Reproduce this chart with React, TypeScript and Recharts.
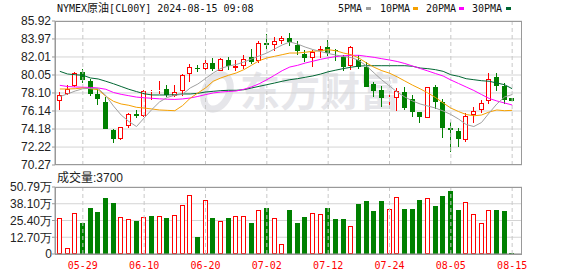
import React from 'react';
import { ComposedChart, Bar, Line, XAxis, YAxis, CartesianGrid, ReferenceLine } from 'recharts';

// trading days shown (NYMEX crude, daily K)
const dates = [
  '05-23', '05-24', '05-28', '05-29', '05-30', '05-31', '06-03', '06-04', '06-05', '06-06',
  '06-07', '06-10', '06-11', '06-12', '06-13', '06-14', '06-17', '06-18', '06-19', '06-20',
  '06-21', '06-24', '06-25', '06-26', '06-27', '06-28', '07-01', '07-02', '07-03', '07-04',
  '07-05', '07-08', '07-09', '07-10', '07-11', '07-12', '07-15', '07-16', '07-17', '07-18',
  '07-19', '07-22', '07-23', '07-24', '07-25', '07-26', '07-29', '07-30', '07-31', '08-01',
  '08-02', '08-05', '08-06', '08-07', '08-08', '08-09', '08-12', '08-13', '08-14', '08-15',
];

const opens = [
  77.20, 77.95, 78.81, 80.36, 79.39, 78.02, 77.13, 74.08, 73.07, 74.51,
  75.83, 75.62, 78.20, 78.35, 78.53, 77.74, 78.31, 80.11, 80.82, 80.72,
  81.33, 80.54, 81.72, 80.86, 81.07, 81.97, 81.61, 83.48, 83.34, 83.70,
  84.05, 83.26, 82.33, 81.90, 82.69, 83.05, 82.76, 81.97, 81.07, 81.72,
  80.97, 79.10, 78.38, 77.56, 77.55, 78.25, 77.45, 76.05, 75.40, 78.70,
  77.13, 74.33, 73.97, 73.00, 75.69, 76.23, 77.23, 79.80, 78.85, 77.60,
];
const closes = [
  77.84, 78.56, 80.29, 79.46, 78.02, 77.41, 74.15, 73.07, 74.36, 75.80,
  75.58, 78.28, 78.31, 78.45, 77.92, 78.17, 80.00, 80.90, 80.68, 81.33,
  80.65, 81.79, 81.07, 81.04, 81.79, 81.43, 83.52, 83.34, 83.70, 84.05,
  83.59, 82.69, 81.90, 82.51, 82.87, 82.40, 82.62, 80.90, 83.12, 80.90,
  78.74, 78.31, 77.56, 77.67, 78.33, 76.50, 76.05, 75.44, 78.70, 77.13,
  74.26, 74.08, 73.07, 75.58, 76.12, 77.06, 79.62, 78.81, 77.38, 77.23,
];
const highs = [
  78.20, 78.92, 80.36, 80.72, 79.64, 78.56, 77.67, 74.22, 74.43, 75.94,
  76.30, 78.38, 78.45, 79.39, 78.92, 78.92, 80.18, 81.25, 81.18, 81.69,
  81.90, 81.90, 82.04, 81.69, 82.22, 82.87, 83.77, 84.48, 84.13, 84.30,
  84.66, 83.77, 82.76, 82.80, 83.23, 83.84, 82.87, 82.26, 83.23, 82.26,
  81.43, 79.28, 78.81, 78.31, 78.61, 78.74, 77.85, 76.05, 78.74, 78.92,
  77.49, 74.97, 74.26, 75.87, 76.59, 77.31, 80.25, 80.25, 79.17, 77.60,
];
const lows = [
  76.30, 77.85, 78.74, 79.17, 77.77, 76.84, 74.15, 72.64, 73.00, 74.33,
  75.33, 75.51, 77.38, 78.02, 77.67, 77.67, 77.74, 79.28, 80.36, 80.43,
  80.47, 80.47, 80.61, 80.47, 80.72, 81.25, 81.36, 82.87, 82.69, 83.41,
  83.23, 82.26, 81.51, 80.90, 81.90, 82.15, 81.61, 80.47, 80.61, 80.72,
  78.74, 77.67, 76.52, 76.66, 76.16, 76.23, 75.51, 74.79, 75.33, 76.41,
  73.18, 71.65, 72.28, 72.82, 74.79, 75.87, 76.88, 78.31, 76.88, 77.23,
];

// volume in 万
const volumes = [
  27.0, 4.5, 30.75, 23.75, 35.0, 31.75, 42.5, 38.5, 27.75, 26.25,
  25.0, 27.75, 28.75, 28.5, 27.25, 29.25, 37.5, 45.0, 13.0, 41.25,
  27.25, 24.75, 27.25, 28.5, 28.5, 23.5, 33.0, 34.75, 27.25, 7.5,
  33.25, 23.5, 28.0, 30.75, 30.0, 34.75, 26.5, 26.5, 21.0, 38.25,
  40.0, 32.5, 40.0, 34.0, 43.5, 34.0, 34.0, 40.75, 42.75, 36.25,
  43.75, 47.5, 33.25, 39.75, 30.0, 23.25, 33.0, 33.25, 32.5, 0.37,
];
// 1 = red (up) volume bar, 0 = green
const volUp = [
  1, 1, 1, 0, 0, 0, 0, 0, 1, 1,
  0, 1, 0, 1, 0, 1, 1, 1, 0, 1,
  0, 1, 0, 1, 1, 0, 1, 0, 1, 1,
  0, 0, 0, 1, 1, 0, 0, 0, 1, 0,
  0, 0, 0, 1, 1, 0, 0, 0, 1, 0,
  0, 0, 0, 1, 1, 1, 1, 0, 0, 0,
];

const ma5 = [
  77.71, 77.99, 78.31, 78.56, 78.60, 78.58, 77.82, 76.68, 75.70, 75.00,
  74.45, 75.38, 76.30, 77.12, 77.61, 77.85, 77.95, 78.64, 79.07, 79.67,
  80.27, 80.76, 81.03, 81.19, 81.46, 81.79, 82.12, 82.44, 82.88, 83.31,
  83.64, 83.42, 83.09, 82.82, 82.61, 82.39, 82.22, 82.06, 81.95, 81.63,
  81.03, 80.27, 79.51, 78.86, 78.20, 77.66, 77.23, 76.90, 76.68, 76.46,
  76.14, 75.76, 75.27, 74.67, 74.45, 74.89, 75.92, 76.90, 77.66, 77.93,
];
const ma10 = [
  78.53, 78.53, 78.56, 78.64, 78.56, 78.45, 77.74, 77.19, 76.90, 76.76,
  76.54, 76.46, 76.36, 76.25, 76.21, 76.17, 76.72, 77.52, 78.10, 78.64,
  79.37, 79.73, 80.02, 80.27, 80.63, 81.11, 81.61, 81.90, 82.08, 82.26,
  82.44, 82.44, 82.52, 82.63, 82.69, 82.80, 82.69, 82.44, 82.26, 81.90,
  81.36, 80.89, 80.52, 80.25, 79.85, 79.40, 78.95, 78.55, 78.10, 77.60,
  77.01, 76.46, 76.08, 75.76, 75.62, 75.70, 76.03, 76.25, 76.17, 76.21,
];
const ma20 = [
  78.93, 78.80, 78.75, 78.72, 78.70, 78.64, 78.50, 78.15, 77.95, 77.80,
  77.65, 77.58, 77.52, 77.46, 77.42, 77.40, 77.45, 77.55, 77.72, 77.92,
  78.10, 78.20, 78.26, 78.31, 78.50, 78.75, 79.10, 79.54, 80.02, 80.52,
  80.92, 81.10, 81.35, 81.55, 81.75, 81.92, 82.05, 82.14, 82.19, 82.19,
  82.08, 81.97, 81.82, 81.68, 81.52, 81.30, 81.03, 80.76, 80.49, 80.21,
  79.94, 79.51, 79.13, 78.75, 78.37, 77.93, 77.50, 77.23, 77.01, 76.79,
];
const ma30 = [
  80.45, 80.16, 80.08, 80.02, 79.73, 79.62, 79.37, 79.10, 78.80, 78.50,
  78.25, 78.02, 77.88, 77.88, 77.88, 77.91, 77.99, 77.99, 78.06, 78.20,
  78.28, 78.35, 78.39, 78.39, 78.45, 78.64, 78.82, 79.00, 79.18, 79.37,
  79.54, 79.65, 79.80, 79.95, 80.15, 80.40, 80.58, 80.75, 80.90, 81.02,
  81.06, 81.06, 81.06, 81.06, 81.06, 81.06, 81.00, 80.81, 80.74, 80.63,
  80.45, 80.08, 79.91, 79.65, 79.54, 79.43, 79.37, 79.18, 79.00, 78.56,
];

const priceTicks = [85.92, 83.97, 82.01, 80.05, 78.10, 76.14, 74.18, 72.22, 70.27];
const volTicks = [0, 12.70, 25.40, 38.10, 50.79];
const dateTicks = ['05-29', '06-10', '06-20', '07-02', '07-12', '07-24', '08-05', '08-15'];

const RED = '#ff0000';
const GREEN = '#008000';
const GRID = '#d4d4d4';
const BORDER = '#999999';
const MA_COLORS = { ma5: '#a0a0a0', ma10: '#f5a000', ma20: '#ff00ff', ma30: '#006633' };

const rows = dates.map((date, i) => ({
  date,
  open: opens[i],
  high: highs[i],
  low: lows[i],
  close: closes[i],
  range: [lows[i], highs[i]],
  vol: volumes[i],
  volUp: volUp[i],
  ma5: ma5[i],
  ma10: ma10[i],
  ma20: ma20[i],
  ma30: ma30[i],
}));

const Candle = (props: any) => {
  const { x, y, width, height, payload } = props;
  if (!payload || payload.open == null) return null;
  const { open, close, high, low } = payload;
  const top0 = Math.min(y, y + height);
  const h = Math.abs(height);
  const span = high - low || 1;
  const py = (v: number) => top0 + ((high - v) / span) * h;
  const up = close >= open;
  const color = up ? RED : GREEN;
  const left = Math.round(x + width / 2 - 2.5);
  const cx = left + 2.5;
  const bTop = Math.round(py(Math.max(open, close)));
  const bBot = Math.max(Math.round(py(Math.min(open, close))), bTop + 1);
  const hy = Math.round(py(high));
  const ly = Math.round(py(low));
  if (up) {
    return (
      <g>
        <line x1={cx} x2={cx} y1={hy} y2={bTop} stroke={color} />
        <line x1={cx} x2={cx} y1={bBot} y2={ly} stroke={color} />
        <rect x={left + 0.5} y={bTop + 0.5} width={4} height={Math.max(bBot - bTop - 1, 0)} fill="#fff" stroke={color} />
      </g>
    );
  }
  return (
    <g>
      <line x1={cx} x2={cx} y1={hy} y2={ly} stroke={color} />
      <rect x={left} y={bTop} width={5} height={bBot - bTop} fill={color} />
    </g>
  );
};

const VolBar = (props: any) => {
  const { x, y, width, height, payload } = props;
  if (!payload || payload.vol == null) return null;
  const left = Math.round(x + width / 2 - 2.5);
  const top = Math.round(Math.min(y, y + height));
  const bottom = Math.round(Math.max(y, y + height));
  const h = Math.max(bottom - top, 1);
  if (payload.volUp) {
    return <rect x={left + 0.5} y={top + 0.5} width={4} height={Math.max(h - 1, 0)} fill="#fff" stroke={RED} />;
  }
  return <rect x={left} y={bottom - h} width={5} height={h} fill={GREEN} />;
};

const axisFont = { fontSize: 12, fill: '#222', fontFamily: 'Liberation Sans, Arial, sans-serif' };
const monoFont = 'DejaVu Sans Mono, monospace';

const legendItems = [
  { label: '5PMA', x: 338, sx: 366, color: MA_COLORS.ma5 },
  { label: '10PMA', x: 380, sx: 413, color: MA_COLORS.ma10 },
  { label: '20PMA', x: 426, sx: 459, color: MA_COLORS.ma20 },
  { label: '30PMA', x: 472, sx: 506, color: MA_COLORS.ma30 },
];

export default function App() {
  return (
    <div style={{ position: 'absolute', left: 0, top: 0, width: 578, height: 276, background: '#fff', overflow: 'hidden' }}>
      {/* watermark behind the candles */}
      <svg width={578} height={276} style={{ position: 'absolute', left: 0, top: 0 }}>
        <ellipse cx={217} cy={92} rx={12} ry={18} fill="none" stroke="#e6e6ea" strokeWidth={7} transform="rotate(25 217 92)" />
        <text x={240} y={106} fontSize={40} fontWeight="bold" fill="#e6e6ea" fontFamily="Noto Sans CJK SC, sans-serif">
          东方财富
        </text>
      </svg>

      <div style={{ position: 'absolute', left: 0, top: 0 }}>
        <ComposedChart width={578} height={180} data={rows} margin={{ top: 21, right: 56, bottom: 15, left: 0 }}>
          <CartesianGrid vertical={false} stroke={GRID} />
          <XAxis dataKey="date" hide padding={{ left: 1, right: 6 }} />
          <YAxis
            domain={[70.27, 85.92]}
            ticks={priceTicks}
            interval={0}
            allowDataOverflow
            width={55}
            tickSize={3}
            tickMargin={1}
            stroke={BORDER}
            tick={axisFont}
            tickFormatter={(v: number) => v.toFixed(2)}
          />
          {dateTicks.map((d) => (
            <ReferenceLine key={d} x={d} stroke="#c8c8c8" strokeDasharray="4 3" />
          ))}
          <Bar dataKey="range" barSize={5} shape={Candle} isAnimationActive={false} />
          <Line type="linear" dataKey="ma30" stroke={MA_COLORS.ma30} strokeWidth={1} dot={false} isAnimationActive={false} />
          <Line type="linear" dataKey="ma20" stroke={MA_COLORS.ma20} strokeWidth={1} dot={false} isAnimationActive={false} />
          <Line type="linear" dataKey="ma10" stroke={MA_COLORS.ma10} strokeWidth={1} dot={false} isAnimationActive={false} />
          <Line type="linear" dataKey="ma5" stroke={MA_COLORS.ma5} strokeWidth={1} dot={false} isAnimationActive={false} />
        </ComposedChart>
      </div>

      <div style={{ position: 'absolute', left: 0, top: 165 }}>
        <ComposedChart width={578} height={111} data={rows} margin={{ top: 22, right: 56, bottom: 0, left: 0 }}>
          <CartesianGrid vertical={false} stroke={GRID} />
          <XAxis
            dataKey="date"
            padding={{ left: 1, right: 6 }}
            ticks={dateTicks}
            interval={0}
            height={22}
            tickLine={false}
            stroke={BORDER}
            tick={{ fontSize: 10, fill: RED, fontFamily: monoFont }}
          />
          <YAxis
            domain={[0, 50.79]}
            ticks={volTicks}
            interval={0}
            allowDataOverflow
            width={55}
            tickSize={3}
            tickMargin={0}
            stroke={BORDER}
            tick={axisFont}
            tickFormatter={(v: number) => (v === 0 ? '0' : `${v.toFixed(2)}万`)}
          />
          {dateTicks.map((d) => (
            <ReferenceLine key={d} x={d} stroke="#c8c8c8" strokeDasharray="4 3" />
          ))}
          <Bar dataKey="vol" barSize={5} shape={VolBar} isAnimationActive={false} />
        </ComposedChart>
      </div>

      {/* frames, title, legend */}
      <svg width={578} height={276} style={{ position: 'absolute', left: 0, top: 0, pointerEvents: 'none' }}>
        <rect x={55.5} y={21.5} width={466} height={143} fill="none" stroke={BORDER} />
        <rect x={55.5} y={187.5} width={466} height={67} fill="none" stroke={BORDER} />
        <text x={57} y={12} fontSize={10} fill="#111" fontFamily={monoFont}>
          NYMEX
          <tspan fontSize={11} fontFamily="Noto Sans CJK SC, sans-serif">原油</tspan>
          [CL00Y] 2024-08-15 09:08
        </text>
        {legendItems.map((it) => (
          <g key={it.label}>
            <text x={it.x} y={12} fontSize={10} fill="#111" fontFamily={monoFont}>
              {it.label}
            </text>
            <rect x={it.sx} y={7} width={5} height={3} fill={it.color} />
          </g>
        ))}
        <text x={57} y={182} fontSize={12} fill="#222" fontFamily="Noto Sans CJK SC, sans-serif">
          成交量
          <tspan fontFamily="Liberation Sans, Arial, sans-serif">:3700</tspan>
        </text>
      </svg>
    </div>
  );
}
